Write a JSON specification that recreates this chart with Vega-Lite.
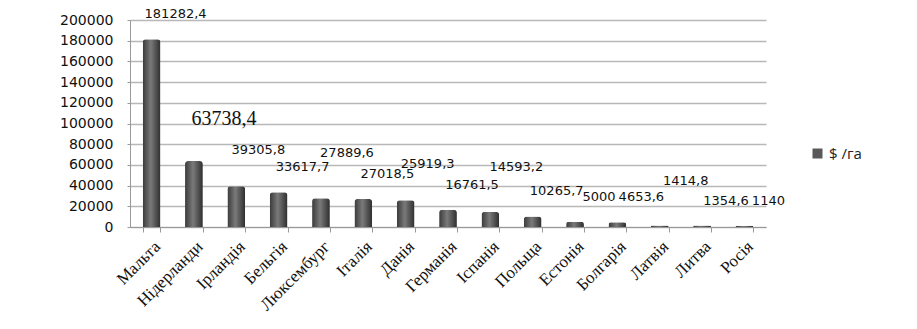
{
  "$schema": "https://vega.github.io/schema/vega-lite/v6.json",
  "autosize": "none",
  "width": 636,
  "height": 207,
  "padding": {"left": 130, "top": 20, "right": 151, "bottom": 102},
  "background": "white",
  "data": {
    "values": [
      {"country": "Мальта", "value": 181282.4, "label": "181282,4"},
      {"country": "Нідерланди", "value": 63738.4, "label": "63738,4"},
      {"country": "Ірландія", "value": 39305.8, "label": "39305,8"},
      {"country": "Бельгія", "value": 33617.7, "label": "33617,7"},
      {"country": "Люксембург", "value": 27889.6, "label": "27889,6"},
      {"country": "Італія", "value": 27018.5, "label": "27018,5"},
      {"country": "Данія", "value": 25919.3, "label": "25919,3"},
      {"country": "Германія", "value": 16761.5, "label": "16761,5"},
      {"country": "Іспанія", "value": 14593.2, "label": "14593,2"},
      {"country": "Польща", "value": 10265.7, "label": "10265,7"},
      {"country": "Естонія", "value": 5000, "label": "5000"},
      {"country": "Болгарія", "value": 4653.6, "label": "4653,6"},
      {"country": "Латвія", "value": 1414.8, "label": "1414,8"},
      {"country": "Литва", "value": 1354.6, "label": "1354,6"},
      {"country": "Росія", "value": 1140, "label": "1140"}
    ]
  },
  "encoding": {
    "x": {
      "field": "country",
      "type": "nominal",
      "sort": null,
      "title": null,
      "scale": {"paddingInner": 0.58, "paddingOuter": 0.3},
      "axis": {
        "labelAngle": -45,
        "labelFont": "Liberation Serif",
        "labelFontSize": 17,
        "labelColor": "#111",
        "domainColor": "#999",
        "tickColor": "#999",
        "tickSize": 5,
        "tickBand": "extent",
        "grid": false,
        "labelPadding": 6
      }
    },
    "y": {
      "field": "value",
      "type": "quantitative",
      "title": null,
      "scale": {"domain": [0, 200000], "nice": false},
      "axis": {
        "values": [0, 20000, 40000, 60000, 80000, 100000, 120000, 140000, 160000, 180000, 200000],
        "format": "d",
        "labelFont": "DejaVu Sans",
        "labelFontSize": 14,
        "labelColor": "#111",
        "domainColor": "#999",
        "tickColor": "#999",
        "tickSize": 3,
        "labelPadding": 14,
        "gridColor": "#b8b8b8",
        "gridWidth": 1.5
      }
    }
  },
  "layer": [
    {
      "mark": {
        "type": "bar",
        "cornerRadiusTopLeft": 3,
        "cornerRadiusTopRight": 3,
        "fill": {
          "gradient": "linear",
          "x1": 0, "y1": 0, "x2": 1, "y2": 0,
          "stops": [
            {"offset": 0, "color": "#3a3a3a"},
            {"offset": 0.45, "color": "#7a7a7a"},
            {"offset": 1, "color": "#2e2e2e"}
          ]
        }
      },
      "encoding": {
        "color": {
          "datum": "$ /га",
          "type": "nominal",
          "scale": {"range": ["#595959"]},
          "legend": {
            "title": null,
            "orient": "none",
            "legendX": 680,
            "legendY": 126,
            "symbolType": "square",
            "symbolSize": 100,
            "labelFont": "Open Sans",
            "labelFontSize": 15,
            "labelColor": "#222"
          }
        }
      }
    },
    {
      "transform": [{"filter": "indexof(['Нідерланди','Люксембург','Іспанія','Латвія','Данія','Ірландія'], datum.country) < 0"}],
      "mark": {
        "type": "text",
        "baseline": "bottom",
        "dy": -18,
        "dx": 24,
        "font": "DejaVu Sans",
        "fontSize": 13,
        "color": "#111"
      },
      "encoding": {"text": {"field": "label"}}
    },
    {
      "transform": [{"filter": "datum.country === 'Данія' || datum.country === 'Ірландія'"}],
      "mark": {
        "type": "text",
        "baseline": "bottom",
        "dy": -29,
        "dx": 22,
        "font": "DejaVu Sans",
        "fontSize": 13,
        "color": "#111"
      },
      "encoding": {"text": {"field": "label"}}
    },
    {
      "transform": [{"filter": "indexof(['Люксембург','Іспанія','Латвія'], datum.country) >= 0"}],
      "mark": {
        "type": "text",
        "baseline": "bottom",
        "dy": -38,
        "dx": 26,
        "font": "DejaVu Sans",
        "fontSize": 13,
        "color": "#111"
      },
      "encoding": {"text": {"field": "label"}}
    },
    {
      "transform": [{"filter": "datum.country === 'Нідерланди'"}],
      "mark": {
        "type": "text",
        "baseline": "bottom",
        "dy": -32,
        "dx": 30,
        "font": "Liberation Serif",
        "fontSize": 20,
        "color": "#111"
      },
      "encoding": {"text": {"field": "label"}}
    }
  ],
  "config": {
    "view": {"stroke": null}
  }
}
